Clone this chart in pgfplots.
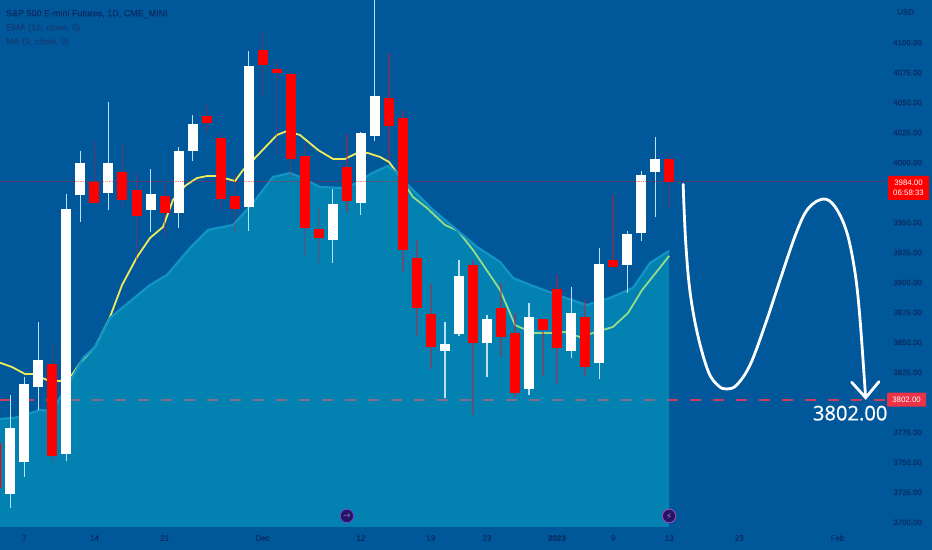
\documentclass[border=0pt]{standalone}
\usepackage{fontspec}
\setmainfont{Liberation Sans}
\newfontfamily\bigfont[FakeBold=0.7]{Open Sans}
\newfontfamily\lab[FakeBold=0.3]{Liberation Sans}
\newfontfamily\symfont{DejaVu Sans}
\usepackage{pgfplots}
\pgfplotsset{compat=1.18}

\definecolor{bg}{RGB}{0,88,155}
\definecolor{areafill}{RGB}{8,196,214}
\definecolor{areaedge}{RGB}{18,148,196}
\definecolor{ema}{RGB}{240,235,90}
\definecolor{lvl}{RGB}{205,60,95}
\definecolor{txt}{RGB}{10,44,98}
\definecolor{txtlight}{RGB}{18,62,118}
\definecolor{candlered}{RGB}{255,0,0}
\definecolor{wickred}{RGB}{190,30,60}
\definecolor{wickwhite}{RGB}{185,225,248}
\definecolor{tagred}{RGB}{235,50,70}

% (style, bar, low, body bottom, body top, high)
\newcommand\candle[6]{%
  \addplot[#1wick] coordinates {(#2,#3) (#2,#6)};
  \addplot[#1body] coordinates {(#2,#4) (#2,#5)};}

\pgfplotsset{
  upwick/.style={draw=wickwhite, line width=1.2bp},
  upbody/.style={draw=white, line width=10bp},
  downwick/.style={draw=wickred, draw opacity=0.5, line width=1.4bp},
  downbody/.style={draw=candlered, line width=10bp},
}

\begin{document}
\begin{tikzpicture}
\begin{axis}[
  scale only axis,
  width=932bp, height=550bp,
  xmin=-4.736, xmax=61.74,
  ymin=3676.9, ymax=4135.6,
  axis background/.style={fill=bg},
  axis line style={draw=none},
  major tick length=0pt,
  tick style={draw=none},
  xtick={-3,2,7,14,21,26,30,35,39,43,48,55},
  xticklabels={7,14,21,Dec,12,19,23,\textbf{2023},9,13,23,Feb},
  xticklabel style={anchor=center, yshift=12bp, text=txt, font=\lab\fontsize{8}{9}\selectfont},
  ytick={3700,3725,3750,3775,3825,3850,3875,3900,3925,3950,4000,4025,4050,4075,4100},
  yticklabel pos=right,
  yticklabel style={anchor=east, inner sep=0pt, xshift=-10bp, text=txt, font=\lab\fontsize{7.9}{9}\selectfont,
    /pgf/number format/assume math mode=true,
    /pgf/number format/fixed, /pgf/number format/fixed zerofill,
    /pgf/number format/precision=2, /pgf/number format/1000 sep={}},
]

% alert level
\addplot[lvl, line width=2.6bp, dash pattern=on 11bp off 12bp] coordinates {(-4.736,3802) (58.5,3802)};

% MA line sits under the translucent area
\addplot[ema, line width=1.8bp] coordinates {
  (-4.74,3833.1) (-3.88,3829.5) (-2.95,3823.7) (-2.38,3823.7) (-1.38,3818.7) (-0.46,3817.8)
  (0.4,3822.9) (0.97,3832.9) (2.04,3846.2) (3.11,3871.2) (3.97,3897.9) (5.04,3921.3)
  (5.96,3937.1) (6.89,3946.3) (7.6,3968.8) (8.46,3980.5) (9.31,3987.1) (10.03,3988.8)
  (10.74,3988.8) (12.03,3984.6) (12.6,3993.8) (13.45,4003.8) (15.02,4023) (15.73,4026.3)
  (16.66,4023) (17.95,4010.5) (19.02,4003) (19.87,4003) (20.73,4008) (21.5,4008)
  (22.37,4004.7) (23.01,4000.5) (23.8,3988) (24.72,3971.3) (25.72,3962.1) (27,3948)
  (27.93,3943) (29,3927.1) (30.21,3906.3) (30.93,3893.7) (32,3864.5) (33.28,3857.9)
  (34.64,3857.9) (35.56,3858.7) (36.63,3854.5) (37.56,3857.9) (38.98,3862.9) (40.06,3874.6)
  (41.06,3893.7) (42.99,3922.1)};

% EMA area
\addplot[draw=none, fill=areafill, fill opacity=0.39] coordinates {
  (-4.74,3696.1)
  (-4.74,3786.2) (-3.74,3787) (-2.95,3789.5) (-1.88,3793.7) (-1.03,3792.8) (-0.46,3803.7)
  (0.4,3820.3) (1.18,3837) (2.04,3846.2) (3.11,3870.4) (3.97,3878.7) (5.96,3897.9)
  (7.18,3906.3) (8.82,3928.8) (10.1,3943.8) (11.88,3948) (13.31,3966.3) (14.74,3988)
  (15.95,3991.3) (16.66,3988) (17.38,3983.8) (18.09,3979.6) (19.73,3978.8) (20.73,3983)
  (21.8,3991.3) (22.94,3997.2) (23.58,3991.3) (24.51,3979.6) (26.15,3960.5) (27.86,3943.8)
  (29.29,3929.6) (30.93,3917.1) (31.86,3903.7) (33.28,3897.1) (35.42,3887.9) (37.13,3881.2)
  (38.77,3887.1) (40.41,3895.4) (41.63,3916.3) (42.99,3926.3)
  (42.99,3696.1)};
\addplot[areaedge, line width=2.2bp] coordinates {
  (-4.74,3786.2) (-3.74,3787) (-2.95,3789.5) (-1.88,3793.7) (-1.03,3792.8) (-0.46,3803.7)
  (0.4,3820.3) (1.18,3837) (2.04,3846.2) (3.11,3870.4) (3.97,3878.7) (5.96,3897.9)
  (7.18,3906.3) (8.82,3928.8) (10.1,3943.8) (11.88,3948) (13.31,3966.3) (14.74,3988)
  (15.95,3991.3) (16.66,3988) (17.38,3983.8) (18.09,3979.6) (19.73,3978.8) (20.73,3983)
  (21.8,3991.3) (22.94,3997.2) (23.58,3991.3) (24.51,3979.6) (26.15,3960.5) (27.86,3943.8)
  (29.29,3929.6) (30.93,3917.1) (31.86,3903.7) (33.28,3897.1) (35.42,3887.9) (37.13,3881.2)
  (38.77,3887.1) (40.41,3895.4) (41.63,3916.3) (42.99,3926.3)};

% candles
\candle{down}{-5}{3721}{3728.6}{3766.1}{3777}
\candle{up}{-4}{3711.7}{3723.9}{3778.9}{3806.2}
\candle{up}{-3}{3738}{3750}{3815.1}{3821.4}
\candle{up}{-2}{3793.7}{3812.6}{3835.1}{3867.3}
\candle{down}{-1}{3750.5}{3755.3}{3832.3}{3848.5}
\candle{up}{0}{3751.4}{3757}{3961}{3973.8}
\candle{up}{1}{3950.7}{3972.7}{3999.9}{4009.9}
\candle{down}{2}{3966}{3966}{3983.6}{4017.4}
\candle{up}{3}{3960.5}{3974.9}{3999.4}{4050.8}
\candle{down}{4}{3962.7}{3968.5}{3991.9}{4015.5}
\candle{down}{5}{3917.1}{3955.5}{3977.4}{3991.1}
\candle{up}{6}{3942.4}{3960.2}{3973.8}{3994.4}
\candle{down}{7}{3938.2}{3957.7}{3972.4}{3982.7}
\candle{up}{8}{3945.2}{3957.7}{4009.7}{4012.8}
\candle{up}{9}{4001.6}{4009.9}{4032.2}{4039.7}
\candle{down}{10}{4024.9}{4032.8}{4038.9}{4048.9}
\candle{down}{11}{3960.5}{3969.6}{4020.3}{4023.6}
\candle{down}{12}{3942.4}{3961.5}{3971.9}{3989.6}
\candle{up}{13}{3943.2}{3962.7}{4080.6}{4093.3}
\candle{down}{14}{4054.5}{4081.4}{4094.2}{4110}
\candle{down}{15}{4006.3}{4075}{4077.8}{4085}
\candle{down}{16}{3988.2}{4002.7}{4074.1}{4075.8}
\candle{down}{17}{3922.3}{3945.2}{4005.7}{4016.1}
\candle{down}{18}{3915.2}{3936.9}{3944.4}{3961.9}
\candle{up}{19}{3916.5}{3935.4}{3965.5}{3977.7}
\candle{down}{20}{3959}{3967.7}{3996.1}{4023.8}
\candle{up}{21}{3956.5}{3966}{4024.7}{4025.8}
\candle{up}{22}{4018}{4022.4}{4055.3}{4139.8}
\candle{down}{23}{4002.2}{4030.3}{4054.1}{4091.1}
\candle{down}{24}{3909}{3927.1}{4036.9}{4043.9}
\candle{down}{25}{3855.4}{3878.7}{3920.2}{3935.4}
\candle{down}{26}{3827.6}{3846}{3874}{3898.5}
\candle{up}{27}{3803.4}{3842.9}{3848.7}{3866.8}
\candle{up}{28}{3855.6}{3857.3}{3905.4}{3918.8}
\candle{down}{29}{3789.5}{3849.3}{3914.6}{3918.8}
\candle{up}{30}{3821.4}{3849.8}{3869.3}{3872.9}
\candle{down}{31}{3838.1}{3854.5}{3878.5}{3899.8}
\candle{down}{32}{3804.7}{3807.6}{3858.1}{3874.6}
\candle{up}{33}{3806.2}{3811.4}{3871.5}{3883.1}
\candle{down}{34}{3822}{3860.4}{3869.8}{3869.8}
\candle{down}{35}{3815.3}{3845.6}{3894.8}{3906.2}
\candle{up}{36}{3836.8}{3843.1}{3874.3}{3896}
\candle{down}{37}{3822}{3829.3}{3871}{3885.4}
\candle{up}{38}{3819.3}{3832.6}{3915.2}{3928.5}
\candle{down}{39}{3912.9}{3913.2}{3918.5}{3973}
\candle{up}{40}{3891.5}{3914.8}{3940.4}{3943.2}
\candle{up}{41}{3934.9}{3941}{3989.6}{3993}
\candle{up}{42}{3954.4}{3992.2}{4003.2}{4021.6}
\candle{down}{43}{3962.4}{3983.6}{4003}{4008.2}

% last price line
\addplot[candlered, opacity=0.45, line width=0.7bp, densely dotted] coordinates {(-4.736,3984) (58.5,3984)};

% hand drawn projection
\addplot[white, line width=2.8bp, smooth, tension=0.6, line cap=round] coordinates {
  (43.99,3981.9) (44.17,3934) (44.48,3892.3) (45.03,3856.2) (45.79,3825.6) (46.5,3813.9)
  (47.1,3811.2) (47.81,3814.5) (48.76,3831.2) (49.83,3864.5) (51.02,3906.3) (52.09,3942.4)
  (52.92,3961.9) (53.99,3969.6) (54.82,3963.2) (55.65,3942.4) (56.24,3909) (56.6,3870.1)
  (57,3804.7)};
\addplot[white, line width=2.8bp, line cap=round] coordinates {(56.01,3816.8) (57.01,3803.9) (57.96,3817.3)};

% texts
\node[anchor=west, inner sep=0pt, text=txt, font=\lab\fontsize{9}{10}\selectfont] at (rel axis cs:0.0064,0.9745) {S\&P 500 E-mini Futures, 1D, CME\_MINI};
\node[anchor=west, inner sep=0pt, text=txtlight, font=\lab\fontsize{9}{10}\selectfont] at (rel axis cs:0.0064,0.949) {EMA (16, close, 0)};
\node[anchor=west, inner sep=0pt, text=txtlight, font=\lab\fontsize{9}{10}\selectfont] at (rel axis cs:0.0064,0.9236) {MA (9, close, 0)};
\node[anchor=east, inner sep=0pt, text=txt, font=\lab\fontsize{7.9}{9}\selectfont] at (rel axis cs:0.9807,0.9785) {USD};

\node[anchor=east, inner sep=0pt, text=white, font=\bigfont\fontsize{20.2}{22}\selectfont] at (axis cs:58.57,3791) {3802.00};

\fill[candlered, rounded corners=1bp] (rel axis cs:0.9528,0.68) rectangle (rel axis cs:0.9968,0.6364);
\node[align=center, text=white, inner sep=0pt, font=\fontsize{7.9}{10.5}\selectfont] at (rel axis cs:0.9748,0.6582) {3984.00\\06:58:33};
\fill[tagred, rounded corners=1bp] (rel axis cs:0.9517,0.286) rectangle (rel axis cs:0.9936,0.2605);
\node[text=white, inner sep=0pt, font=\fontsize{7.9}{9}\selectfont] at (rel axis cs:0.9727,0.2727) {3802.00};

\node[circle, fill={rgb,255:red,35;green,22;blue,95}, draw={rgb,255:red,105;green,70;blue,210}, line width=1bp, minimum size=13.5bp, inner sep=0pt, text={rgb,255:red,140;green,100;blue,235}, font=\symfont\fontsize{9}{9}\selectfont] at (axis cs:20.01,3705.3) {→};
\node[circle, fill={rgb,255:red,35;green,22;blue,95}, draw={rgb,255:red,150;green,70;blue,190}, line width=1bp, minimum size=13.5bp, inner sep=0pt, text={rgb,255:red,190;green,110;blue,235}, font=\symfont\fontsize{8.5}{9}\selectfont] at (axis cs:42.99,3705.3) {⚡};

\end{axis}
\end{tikzpicture}
\end{document}
